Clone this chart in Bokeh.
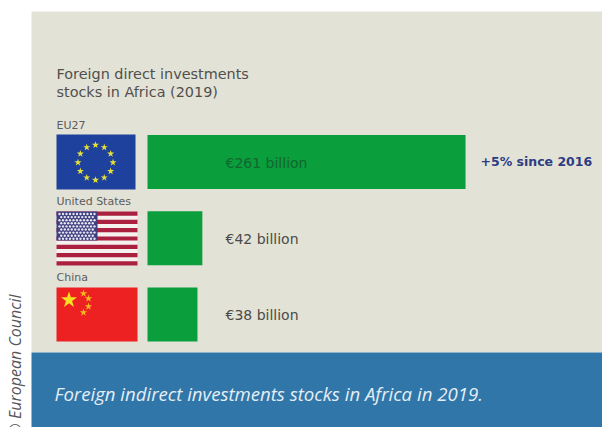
from math import cos, sin, pi
from bokeh.plotting import figure
from bokeh.models import Range1d
from bokeh.core.properties import value
from bokeh.embed import file_html
from bokeh.resources import INLINE

# Data
categories = ["EU27", "United States", "China"]
row_index = [0, 1, 2]
value_labels = ["€261 billion", "€42 billion", "€38 billion"]
# bar lengths as drawn in the picture (billion euro scale)
bar_lengths = [261, 45, 41]
title_lines = ["Foreign direct investments", "stocks in Africa (2019)"]
note_text = "+5% since 2016"
caption_text = "Foreign indirect investments stocks in Africa in 2019."
credit_text = "© European Council"

W, H = 602, 427
p = figure(width=W, height=H, output_backend="svg", toolbar_location=None,
           x_range=Range1d(-120.65, 373.4), y_range=Range1d(3.482, -2.118),
           min_border=0, min_border_left=0, min_border_right=0,
           min_border_top=0, min_border_bottom=0, outline_line_color=None,
           background_fill_color="white", border_fill_color="white")
p.axis.visible = False
p.grid.visible = False
p.extra_x_ranges["px"] = Range1d(0, 602)
p.extra_y_ranges["px"] = Range1d(427, 0)
PX = dict(x_range_name="px", y_range_name="px")


def box(l, r, t, b, color):
    p.quad(left=[l], right=[r], top=[t], bottom=[b], fill_color=color, line_color=None, **PX)


def text(x, y, s, size, color, font="Roboto", style="normal", align="left", angle=0):
    p.text(x=[x], y=[y], text=[s], text_font=value(font), text_font_size=f"{size}px",
           text_color=color, text_font_style=style, text_align=align,
           text_baseline="middle", angle=angle, **PX)


# Panels
box(31, 602, 11, 352, "#e3e2d7")
box(31, 602, 352, 427, "#3076a8")

# EU flag
box(56, 135, 134, 189, "#1f419e")
cx, cy, rad = 95, 162, 17.5
p.scatter(x=[cx + rad * cos(i * pi / 6) for i in range(12)],
          y=[cy + rad * sin(i * pi / 6) for i in range(12)],
          marker="star", size=7.5, fill_color="#e6e234", line_color=None, **PX)

# US flag
box(56, 137, 211, 265, "#f4f1ee")
for i in range(7):
    t = 211 + i * 54 / 6.5
    box(56, 137, t, t + 54 / 13, "#ab1f3f")
box(56, 97, 211, 240, "#3f3f80")
xs, ys = [], []
for r in range(9):
    for c in range(11 if r % 2 == 0 else 10):
        xs.append(59 + c * 3.5 + (0 if r % 2 == 0 else 1.75))
        ys.append(213.5 + r * 3.1)
p.scatter(x=xs, y=ys, marker="circle", size=2.4, fill_color="#e4e5f0", line_color=None, **PX)

# China flag
box(56, 137, 287, 341, "#ee2122")
p.scatter(x=[68.5], y=[299.5], marker="star", size=17, fill_color="#f7e020", line_color=None, **PX)
p.scatter(x=[83, 88, 88, 83], y=[293, 298, 306, 312], marker="star", size=8,
          fill_color="#f2b81e", line_color=None, **PX)

# Bars
p.hbar(y=row_index, left=0, right=bar_lengths, height=0.71, fill_color="#0a9e3c",
       line_color=None)

# Texts
for line, y in zip(title_lines, [73, 91]):
    text(56, y, line, 14.4, "#50504c", font="DejaVu Sans")
for cat, y in zip(categories, [125, 201, 277]):
    text(56, y, cat, 11, "#5c5c5c", font="DejaVu Sans")
for lab, y, col in zip(value_labels, [162, 238, 314], ["#12662f", "#4a4a46", "#4a4a46"]):
    text(225, y, lab, 14, col, font="DejaVu Sans")
text(480, 161, note_text, 12.5, "#2e3c82", font="DejaVu Sans", style="bold")
text(54, 393, caption_text, 18.6, "#e6eef5", font="Open Sans", style="italic")
text(14, 436, credit_text, 16, "#55555a", font="Open Sans", style="italic", angle=pi / 2)

open("out.html", "w").write(file_html(p, INLINE))
